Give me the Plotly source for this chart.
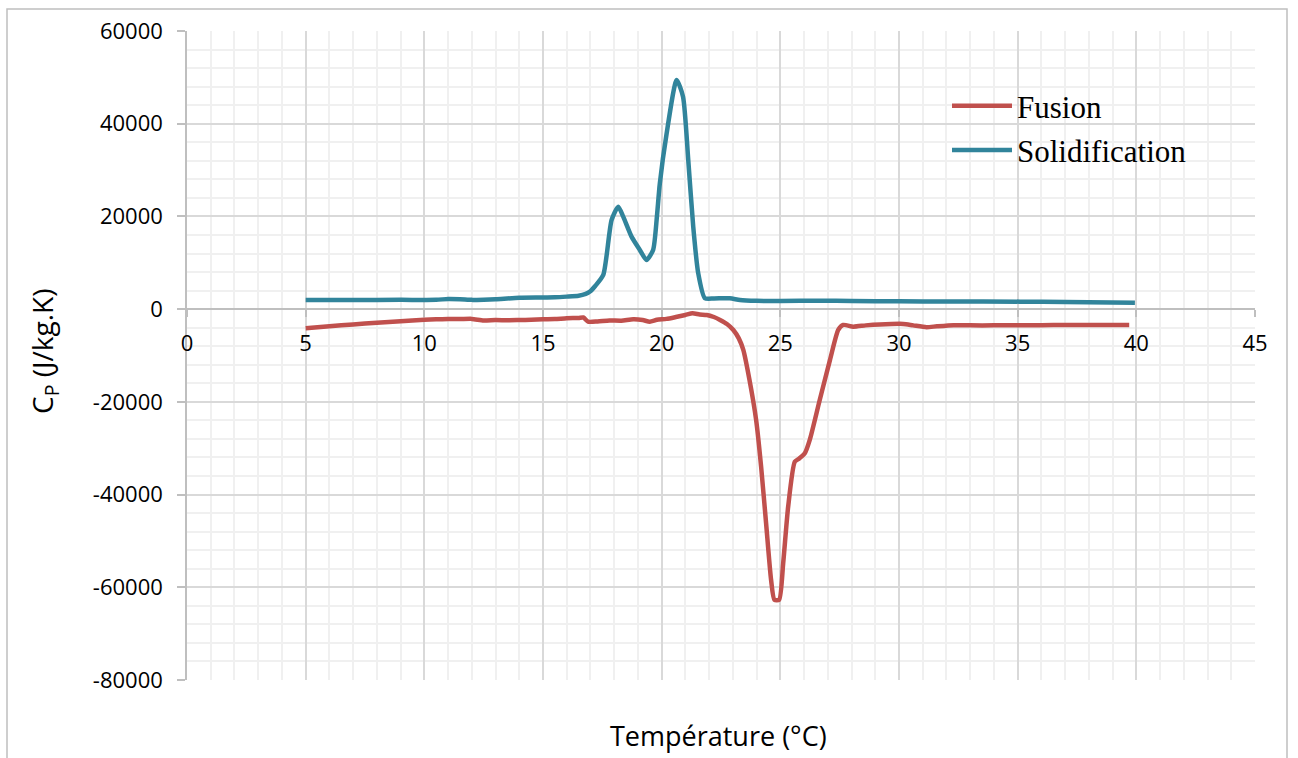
import plotly.graph_objects as go

# Fusion (red) curve
fusion_T = [5, 6, 7, 8, 9, 10, 10.5, 11, 11.5, 12, 12.5, 13, 13.5, 14, 14.5, 15, 15.5, 16,
            16.5, 16.7, 16.9, 17.3, 17.8, 18.3, 18.8, 19.2, 19.5, 19.8, 20.2, 20.6, 21.0, 21.3,
            21.6, 21.9, 22.2, 22.46, 22.75, 23.02, 23.25, 23.44, 23.7, 23.98, 24.19, 24.4, 24.61,
            24.75, 24.95, 25.12, 25.33, 25.61, 25.8, 26.03, 26.24, 26.66, 27.09, 27.44, 27.65,
            28.07, 28.6, 29.19, 30.18, 30.6, 31.16, 31.6, 32.3, 33, 34, 35, 36, 37, 38, 39, 39.7]
fusion_Cp = [-4100, -3700, -3300, -2950, -2600, -2300, -2200, -2150, -2150, -2100, -2450, -2350,
             -2400, -2350, -2300, -2200, -2150, -1950, -1900, -1800, -2700, -2650, -2450, -2500,
             -2200, -2350, -2700, -2300, -2100, -1700, -1250, -900, -1150, -1250, -1700, -2330,
             -3200, -4490, -6300, -8800, -15270, -23900, -33970, -46190, -58400, -62700, -62700,
             -54800, -42600, -32900, -32200, -31100, -28200, -19600, -11000, -4490, -3400, -3780,
             -3500, -3300, -3190, -3500, -3900, -3700, -3450, -3500, -3500, -3450, -3450, -3400,
             -3400, -3400, -3400]

# Solidification (teal) curve
solid_T = [5, 7, 9, 10.5, 11, 11.5, 12, 12.5, 13, 14, 15, 15.5, 16, 16.5, 16.8, 16.98, 17.2,
           17.54, 17.89, 18.17, 18.38, 18.73, 19.08, 19.36, 19.64, 19.8, 19.92, 20.21, 20.63,
           20.9, 21.12, 21.33, 21.54, 21.82, 22.2, 22.87, 23.3, 24, 25, 26.67, 28, 30, 32,
           35.1, 37, 39.94]
solid_Cp = [1950, 1950, 2000, 2000, 2200, 2150, 2000, 2050, 2150, 2450, 2500, 2550, 2700, 2900,
            3300, 3800, 5000, 7380, 19240, 22100, 19950, 15640, 12770, 10610, 12770, 20000,
            27000, 37900, 49440, 45840, 32180, 17800, 7740, 2350, 2300, 2350, 1980, 1800, 1750,
            1830, 1750, 1700, 1650, 1620, 1550, 1400]

x_ticks = [0, 5, 10, 15, 20, 25, 30, 35, 40, 45]
y_ticks = [60000, 40000, 20000, 0, -20000, -40000, -60000, -80000]
y_tick_text = ["60000", "40000", "20000", "0", "-20000", "-40000", "-60000", "-80000"]

series_names = ["Fusion", "Solidification"]
series_colors = ["#c0504d", "#31849b"]

fig = go.Figure()
fig.add_trace(go.Scatter(x=fusion_T, y=fusion_Cp, mode="lines", name=series_names[0],
                         legendgroup="a",
                         line=dict(color=series_colors[0], width=4.5, shape="spline", smoothing=0.6)))
fig.add_trace(go.Scatter(x=solid_T, y=solid_Cp, mode="lines", name=series_names[1],
                         legendgroup="b",
                         line=dict(color=series_colors[1], width=4.5, shape="spline", smoothing=0.6)))

W, H = 1298, 758
L, R, T, B = 187, 1255, 31, 680
pw, ph = R - L, B - T

fig.update_layout(
    width=W, height=H,
    margin=dict(l=L, r=W - R, t=T, b=H - B),
    paper_bgcolor="white", plot_bgcolor="white",
    font=dict(family="Open Sans", size=22, color="black"),
    showlegend=True,
    legend=dict(x=(947 - L) / pw, y=(680 - 79) / ph, xanchor="left", yanchor="top",
                bgcolor="rgba(0,0,0,0)", itemwidth=60,
                font=dict(family="Liberation Serif", size=31, color="black"),
                tracegroupgap=1),
)

fig.update_xaxes(
    range=[0, 45], tickvals=x_ticks, ticktext=[str(v) for v in x_ticks],
    anchor="free", position=80000 / 140000,
    showline=True, linecolor="#bfbfbf", linewidth=1.5,
    ticks="outside", ticklen=7, tickcolor="#bfbfbf", tickwidth=1.5,
    ticklabelstandoff=8,
    showgrid=True, gridcolor="#d9d9d9", gridwidth=1.5,
    minor=dict(dtick=1, showgrid=True, gridcolor="#f0f0f0", gridwidth=1.5, ticks=""),
    zeroline=False,
    tickfont=dict(family="Open Sans", size=22),
)
fig.update_yaxes(
    range=[-80000, 60000], tickvals=y_ticks, ticktext=y_tick_text,
    showline=True, linecolor="#bfbfbf", linewidth=1.5,
    ticks="outside", ticklen=8, tickcolor="#bfbfbf", tickwidth=1.5,
    ticklabelstandoff=10,
    showgrid=True, gridcolor="#d9d9d9", gridwidth=1.5,
    minor=dict(dtick=4000, showgrid=True, gridcolor="#f0f0f0", gridwidth=1.5, ticks=""),
    zeroline=False,
    tickfont=dict(family="Open Sans", size=22),
)

# Outer chart border
fig.add_shape(type="rect", xref="paper", yref="paper",
              x0=(7 - L) / pw, x1=(1287 - L) / pw, y0=(B - 790) / ph, y1=(B - 9) / ph,
              line=dict(color="#bfbfbf", width=1.5), fillcolor="rgba(0,0,0,0)", layer="below")

fig.add_annotation(text="Température (°C)", xref="paper", yref="paper",
                   x=(718 - L) / pw, y=(B - 735) / ph, showarrow=False,
                   xanchor="center", yanchor="middle",
                   font=dict(family="Open Sans", size=27, color="black"))
fig.add_annotation(text="C<sub>P</sub> (J/kg.K)", xref="paper", yref="paper",
                   x=(44 - L) / pw, y=(B - 352) / ph, showarrow=False, textangle=-90,
                   xanchor="center", yanchor="middle",
                   font=dict(family="Open Sans", size=28, color="black"))

fig.write_html("out.html", config={"displayModeBar": False},
               post_script="document.body.style.margin='0';document.body.style.overflow='hidden';")
